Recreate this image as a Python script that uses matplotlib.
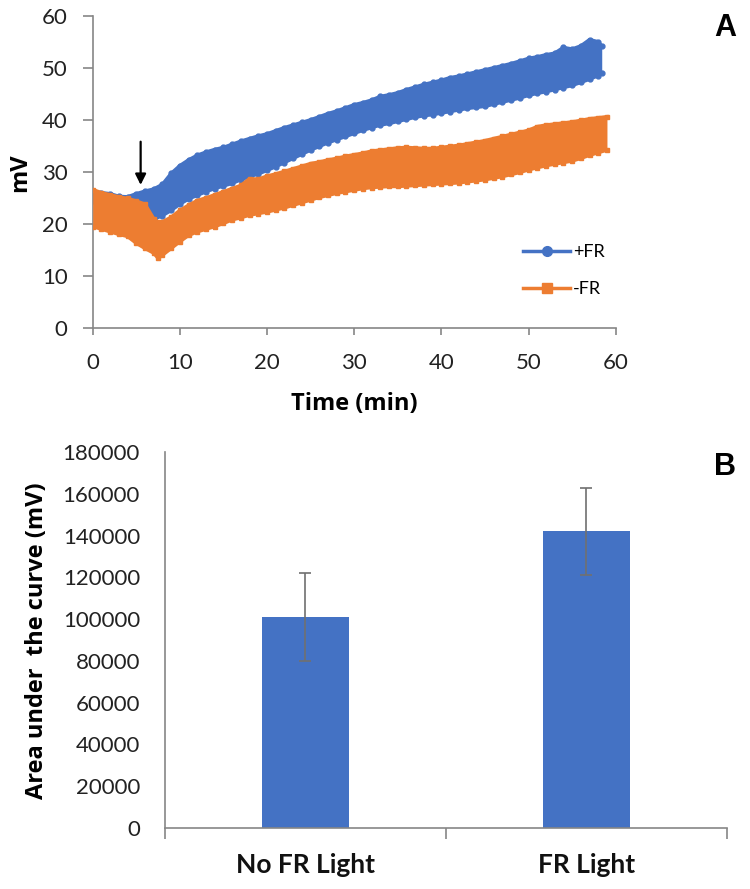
import matplotlib
matplotlib.use('Agg')
import matplotlib.pyplot as plt
from matplotlib.lines import Line2D

# ---- panel A: membrane potential traces (band edges) ----
t_plus = [0, 1, 2, 3, 4, 5, 6, 7, 8, 9, 10, 11, 12, 13, 14, 15, 16, 17, 18, 19,
          20, 21, 22, 23, 24, 25, 26, 27, 28, 29, 30, 31, 32, 33, 34, 35, 36, 37, 38, 39,
          40, 41, 42, 43, 44, 45, 46, 47, 48, 49, 50, 51, 52, 53, 54, 55, 56, 57, 58, 58.4]
plus_high = [26.2, 26.0, 25.8, 25.3, 25.2, 25.8, 26.3, 26.7, 27.6, 29.7,
             31.2, 32.3, 33.2, 33.8, 34.3, 34.7, 35.3, 35.9, 36.4, 36.9,
             37.3, 37.9, 38.5, 39.0, 39.5, 40.0, 40.6, 41.2, 41.7, 42.3,
             42.9, 43.3, 43.8, 44.5, 44.8, 45.2, 45.8, 46.3, 46.8, 47.2,
             47.6, 48.1, 48.4, 48.8, 49.2, 49.6, 50.0, 50.4, 50.8, 51.3,
             51.8, 52.1, 52.5, 52.8, 53.9, 53.6, 54.2, 55.4, 55.0, 54.2]
plus_low = [24.5, 24.4, 24.2, 24.0, 23.8, 23.5, 22.5, 20.9, 21.6, 22.6,
            23.8, 24.8, 25.5, 26.2, 26.8, 27.3, 27.8, 28.5, 29.1, 29.6,
            30.3, 31.0, 31.8, 32.6, 33.4, 34.2, 34.9, 35.6, 36.2, 36.8,
            37.4, 38.0, 38.5, 39.0, 39.3, 39.7, 40.1, 40.5, 40.8, 41.0,
            41.3, 41.6, 41.9, 42.2, 42.4, 42.6, 43.0, 43.4, 43.8, 44.2,
            44.7, 45.1, 45.4, 45.8, 46.2, 46.6, 47.2, 47.8, 48.5, 49.0]

t_minus = [0, 1, 2, 3, 4, 5, 6, 7, 7.5, 8, 9, 10, 11, 12, 13, 14, 15, 16, 17, 18, 19,
           20, 21, 22, 23, 24, 25, 26, 27, 28, 29, 30, 31, 32, 33, 34, 35, 36, 37, 38, 39,
           40, 41, 42, 43, 44, 45, 46, 47, 48, 49, 50, 51, 52, 53, 54, 55, 56, 57, 58, 59]
minus_high = [26.6, 26.0, 25.6, 25.2, 24.9, 24.4, 23.8, 21.0, 20.3, 20.4, 21.3,
              22.6, 23.6, 24.5, 25.0, 25.6, 26.2, 26.8, 27.4, 28.7, 28.6,
              29.2, 29.6, 30.1, 30.6, 31.1, 31.6, 31.9, 32.3, 32.6, 33.0,
              33.3, 33.6, 34.0, 34.2, 34.4, 34.6, 34.7, 34.6, 34.5, 34.5,
              34.7, 34.9, 35.1, 35.4, 35.7, 36.0, 36.4, 36.8, 37.2, 37.6,
              38.0, 38.7, 39.0, 39.2, 39.4, 39.6, 39.9, 40.2, 40.4, 40.6]
minus_low = [19.5, 19.0, 18.5, 18.0, 17.6, 16.3, 15.3, 14.4, 13.4, 14.0, 15.3,
             16.6, 17.8, 18.5, 19.0, 19.5, 20.1, 20.8, 21.2, 21.7, 22.0,
             22.3, 22.7, 23.1, 23.6, 24.1, 24.6, 25.1, 25.5, 25.9, 26.2,
             26.5, 26.8, 27.0, 27.1, 27.2, 27.2, 27.3, 27.4, 27.5, 27.6,
             27.7, 27.8, 27.9, 28.1, 28.3, 28.5, 28.8, 29.1, 29.5, 29.9,
             30.4, 30.8, 31.2, 31.5, 31.8, 32.1, 32.6, 33.2, 33.7, 34.2]

arrow_time = 5.5
arrow_from = 35.8
arrow_to = 27.5

# ---- panel B: area under the curve ----
conditions = ['No FR Light', 'FR Light']
auc_mean = [101000, 142000]
auc_err = [21000, 21000]

blue = '#4472C4'
orange = '#ED7D31'
axis_grey = '#868686'
tick_font = 'Lato'
label_font = 'Open Sans'

fig = plt.figure(figsize=(7.5, 8.89), dpi=100)

# ---------------- panel A ----------------
ax1 = fig.add_axes([0.1236, 0.631, 0.6973, 0.3513])
ax1.fill_between(t_plus, plus_low, plus_high, color=blue, lw=0, zorder=2)
ax1.plot(t_plus, plus_high, color=blue, lw=2.5, marker='o', ms=3.5, zorder=2)
ax1.plot(t_plus, plus_low, color=blue, lw=2.5, marker='o', ms=3.5, zorder=2)

ax1.fill_between(t_minus, minus_low, minus_high, color=orange, lw=0, zorder=3)
ax1.plot(t_minus, minus_high, color=orange, lw=2.5, marker='s', ms=3.5, zorder=3)
ax1.plot(t_minus, minus_low, color=orange, lw=2.5, marker='s', ms=3.5, zorder=3)

ax1.annotate('', xy=(arrow_time, arrow_to), xytext=(arrow_time, arrow_from),
             arrowprops=dict(arrowstyle='-|>', color='black', lw=1.6,
                             mutation_scale=16, shrinkA=0, shrinkB=0))

ax1.set_xlim(0, 60)
ax1.set_ylim(0, 60)
ax1.set_xticks(range(0, 61, 10))
ax1.set_yticks(range(0, 61, 10))
for s in ['top', 'right']:
    ax1.spines[s].set_visible(False)
for s in ['left', 'bottom']:
    ax1.spines[s].set_color(axis_grey)
    ax1.spines[s].set_linewidth(1.2)
ax1.tick_params(axis='x', direction='out', length=5, width=1.2, color=axis_grey, pad=13)
ax1.tick_params(axis='y', direction='out', length=7, width=1.2, color=axis_grey, pad=11)
for lab in ax1.get_xticklabels() + ax1.get_yticklabels():
    lab.set_fontfamily(tick_font)
    lab.set_fontsize(16)
    lab.set_color('#222222')
ax1.set_xlabel('Time (min)', fontfamily=label_font, fontweight='bold', fontsize=17)
ax1.set_ylabel('mV', fontfamily=label_font, fontweight='bold', fontsize=17)
ax1.xaxis.set_label_coords(0.5, -0.205)
ax1.yaxis.set_label_coords(-0.115, 0.496)

handles = [Line2D([], [], color=blue, lw=2.5, marker='o', ms=7),
           Line2D([], [], color=orange, lw=2.5, marker='s', ms=7)]
leg = ax1.legend(handles, ['+FR', '-FR'], loc='upper left', bbox_to_anchor=(0.823, 0.268),
                 frameon=False, borderpad=0, borderaxespad=0, handlelength=2.6,
                 handletextpad=0.15, labelspacing=1.15, numpoints=1,
                 prop={'family': tick_font, 'size': 13})

fig.text(0.967, 0.969, 'A', fontsize=22, fontweight='bold', fontfamily='Liberation Sans',
         ha='center', va='center')

# ---------------- panel B ----------------
ax2 = fig.add_axes([0.22, 0.0686, 0.7493, 0.4229])
xpos = list(range(len(conditions)))
ax2.bar(xpos, auc_mean, width=0.31, color=blue, zorder=2)
ax2.errorbar(xpos, auc_mean, yerr=auc_err, fmt='none', ecolor='#707070',
             elinewidth=1.2, capsize=4, capthick=1.2, zorder=3)
ax2.set_xlim(-0.5, len(conditions) - 0.5)
ax2.set_ylim(0, 180000)
ax2.set_yticks(range(0, 180001, 20000))
ax2.set_xticks(xpos)
ax2.set_xticklabels(conditions)
ax2.set_xticks([-0.5, 0.5, 1.5], minor=True)
for s in ['top', 'right']:
    ax2.spines[s].set_visible(False)
for s in ['left', 'bottom']:
    ax2.spines[s].set_color(axis_grey)
    ax2.spines[s].set_linewidth(1.2)
ax2.tick_params(axis='x', which='major', length=0, pad=18)
ax2.tick_params(axis='x', which='minor', direction='out', length=8, width=1.2, color=axis_grey)
ax2.tick_params(axis='y', length=0, pad=18)
for lab in ax2.get_yticklabels():
    lab.set_fontfamily(tick_font)
    lab.set_fontsize(16)
    lab.set_color('#222222')
for lab in ax2.get_xticklabels():
    lab.set_fontfamily(tick_font)
    lab.set_fontweight('bold')
    lab.set_fontsize(19)
    lab.set_color('#111111')
ax2.set_ylabel('Area under  the curve (mV)', fontfamily=label_font, fontweight='bold', fontsize=17)
ax2.yaxis.set_label_coords(-0.206, 0.497)

fig.text(0.967, 0.4747, 'B', fontsize=22, fontweight='bold', fontfamily='Liberation Sans',
         ha='center', va='center')

fig.savefig('out.png', dpi=100)
